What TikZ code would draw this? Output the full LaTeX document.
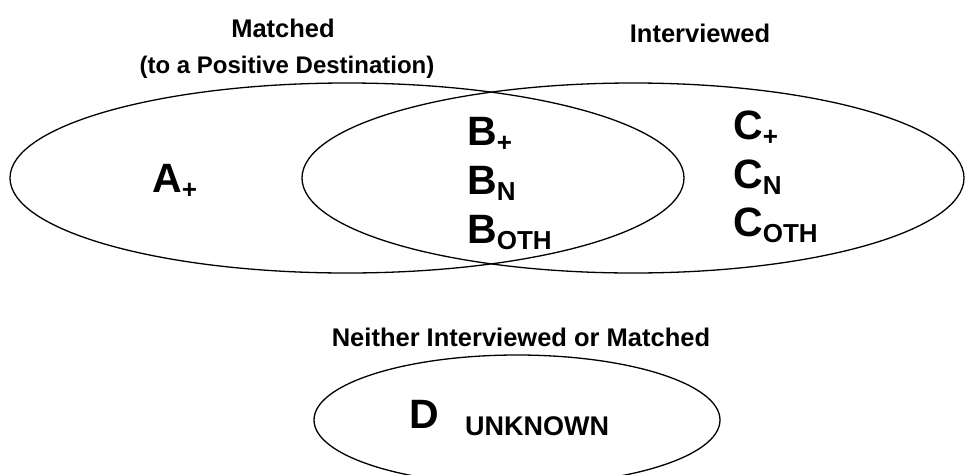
\documentclass[tikz,border=0pt]{standalone}
\usepackage{fontspec}
\setmainfont{Liberation Sans}
\usetikzlibrary{shapes.geometric}
\tikzset{
  setshape/.style={draw=black, line width=1.3pt, ellipse, inner sep=0pt},
  title/.style={font=\fontsize{25.5}{28}\selectfont\bfseries, anchor=base, inner sep=0pt},
  biglab/.style={font=\fontsize{41}{44}\selectfont\bfseries, anchor=base west, inner sep=0pt},
  midlab/.style={font=\fontsize{27}{30}\selectfont\bfseries, anchor=base west, inner sep=0pt}
}
\newcommand{\sbs}[1]{\raisebox{-6.5pt}{\fontsize{26}{28}\selectfont #1}}
\begin{document}
\begin{tikzpicture}[x=1pt,y=-1pt]
\useasboundingbox (0,0) rectangle (965,474);
\clip (0,0) rectangle (965,474);
\fill[white] (0,0) rectangle (965,474);
\node[setshape, minimum width=674pt, minimum height=190pt] (matched) at (347,178) {};
\node[setshape, minimum width=662pt, minimum height=190pt] (interv) at (633,178) {};
\node[setshape, minimum width=406pt, minimum height=130pt] (neither) at (517,420) {};
\node[title] (tm) at (283,37) {Matched};
\node[title, font=\fontsize{24}{26}\selectfont\bfseries] (tm2) at (287,73) {(to a Positive Destination)};
\node[title] (ti) at (700,42) {Interviewed};
\node[title] (tn) at (521,346) {Neither Interviewed or Matched};
\node[biglab] (a) at (152,192) {A\sbs{+}};
\node[biglab] (b1) at (467,145) {B\sbs{+}};
\node[biglab] (b2) at (467,194) {B\sbs{N}};
\node[biglab] (b3) at (467,243) {B\sbs{OTH}};
\node[biglab] (c1) at (733,139) {C\sbs{+}};
\node[biglab] (c2) at (733,188) {C\sbs{N}};
\node[biglab] (c3) at (733,236) {C\sbs{OTH}};
\node[biglab] (d) at (409,428) {D};
\node[midlab] (unk) at (465,435) {UNKNOWN};
\end{tikzpicture}
\end{document}
